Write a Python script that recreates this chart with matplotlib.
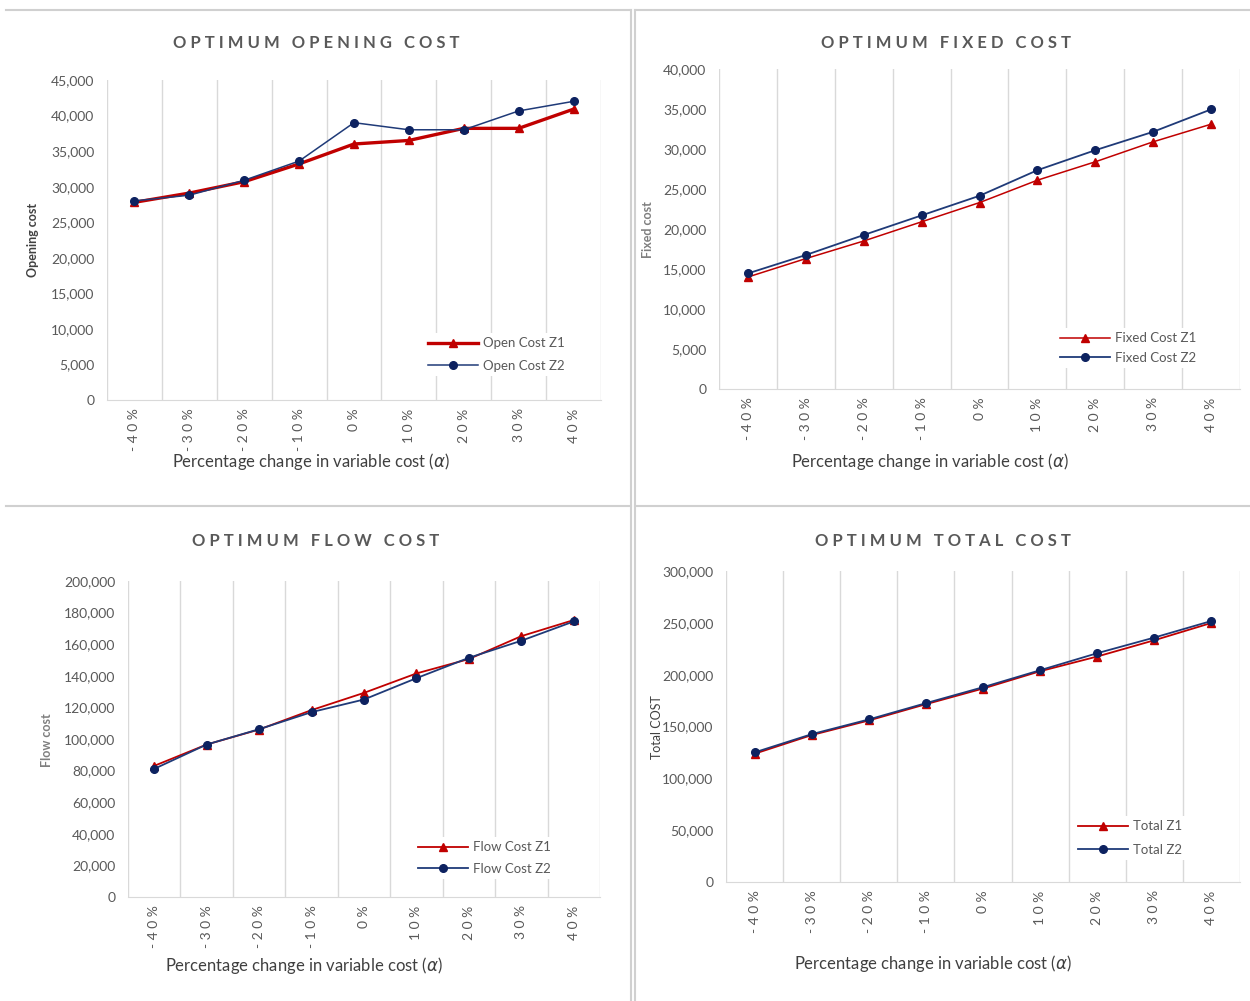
import numpy as np
import matplotlib.pyplot as plt
from matplotlib.lines import Line2D
from matplotlib.ticker import FuncFormatter

plt.rcParams["font.family"] = ["Lato", "DejaVu Sans"]

W, H = 1250, 1001

categories = ["-40%", "-30%", "-20%", "-10%", "0%", "10%", "20%", "30%", "40%"]

open_z1 = [27800, 29100, 30700, 33200, 36000, 36500, 38200, 38200, 40900]
open_z2 = [28000, 28800, 30900, 33600, 39000, 38000, 38000, 40650, 42000]

fixed_z1 = [14000, 16300, 18500, 20900, 23300, 26100, 28400, 30900, 33100]
fixed_z2 = [14450, 16750, 19250, 21700, 24150, 27350, 29850, 32150, 34950]

flow_z1 = [83000, 96500, 106000, 118300, 129200, 141500, 150600, 165100, 175300]
flow_z2 = [81100, 96500, 106200, 117000, 125000, 138500, 151400, 162200, 174400]

total_z1 = [123700, 141700, 155800, 171500, 186600, 203300, 217500, 233200, 249900]
total_z2 = [125000, 142600, 156800, 172500, 187900, 204300, 220700, 235800, 251800]

RED = "#C00000"
NAVY = "#1F3A78"
NAVY_MK = "#0D2260"
GRID = "#D9D9D9"
TICK = "#595959"


def px_rect(x0, y0, x1, y1):
    return [x0 / W, 1 - y1 / H, (x1 - x0) / W, (y1 - y0) / H]


def spaced(s, gap=" "):
    return gap.join(s)


def panel(fig, rect, z1, z2, labels, ymax, ystep, lw1, lw2,
          title, title_xy, ylab, ylab_xy, ylab_style, xlab_xy,
          leg_xy, leg_spacing):
    ax = fig.add_axes(px_rect(*rect))
    x = np.arange(len(categories))
    ax.plot(x, z1, color=RED, lw=lw1, marker="^", ms=5.5,
            mfc=RED, mec=RED, label=labels[0], zorder=3)
    ax.plot(x, z2, color=NAVY, lw=lw2, marker="o", ms=5.5,
            mfc=NAVY_MK, mec=NAVY_MK, label=labels[1], zorder=4)

    ax.set_xlim(-0.5, len(categories) - 0.5)
    ax.set_ylim(0, ymax)
    ax.set_yticks(np.arange(0, ymax + 1, ystep))
    ax.yaxis.set_major_formatter(FuncFormatter(lambda v, p: f"{int(v):,}"))
    ax.set_xticks(x)
    ax.set_xticklabels([spaced(c) for c in categories], rotation=90,
                       va="top", ha="center")
    ax.set_xticks(np.arange(-0.5, len(categories), 1.0), minor=True)
    ax.grid(which="minor", axis="x", color=GRID, lw=1.0)
    ax.tick_params(which="both", length=0)
    ax.tick_params(axis="y", pad=9, labelsize=10, labelcolor=TICK)
    ax.tick_params(axis="x", pad=6, labelsize=10, labelcolor=TICK)
    for s in ["top", "left", "right"]:
        ax.spines[s].set_visible(False)
    ax.spines["bottom"].set_color(GRID)

    fig.text(title_xy[0] / W, 1 - title_xy[1] / H, title, ha="center",
             va="center", fontsize=12, fontweight="bold", color="#595959")
    fig.text(ylab_xy[0] / W, 1 - ylab_xy[1] / H, ylab, rotation=90,
             ha="center", va="center", fontsize=9, **ylab_style)
    fig.text(xlab_xy[0] / W, 1 - xlab_xy[1] / H,
             r"Percentage change in variable cost ($\alpha$)",
             ha="center", va="center", fontsize=12, color="#404040")

    leg = ax.legend(loc="center left",
                    bbox_to_anchor=(leg_xy[0] / W, 1 - leg_xy[1] / H),
                    bbox_transform=fig.transFigure, fontsize=9.5,
                    frameon=True, facecolor="white", edgecolor="none",
                    framealpha=1.0, fancybox=False, borderpad=0.3,
                    borderaxespad=0, handlelength=3.8, handletextpad=0.4,
                    labelspacing=leg_spacing)
    for t in leg.get_texts():
        t.set_color(TICK)
    return ax


def title_text(words):
    return "   ".join(spaced(w) for w in words.split())


fig = plt.figure(figsize=(W / 100, H / 100), dpi=100)

panel(fig, (107, 80, 601, 400), open_z1, open_z2,
      ["Open Cost Z1", "Open Cost Z2"], 45000, 5000, 2.4, 1.1,
      title_text("OPTIMUM OPENING COST"), (316, 43),
      "Opening cost", (33, 240), dict(color="#404040", fontweight="bold"),
      (311, 461), (424, 354.5), 0.8)

panel(fig, (719, 69, 1240, 389), fixed_z1, fixed_z2,
      ["Fixed Cost Z1", "Fixed Cost Z2"], 40000, 5000, 1.1, 1.3,
      title_text("OPTIMUM FIXED COST"), (946, 43),
      "Fixed cost", (648, 230), dict(color="#7F7F7F", fontweight="bold"),
      (930, 461), (1056, 348), 0.55)

panel(fig, (128, 581, 600, 897), flow_z1, flow_z2,
      ["Flow Cost Z1", "Flow Cost Z2"], 200000, 20000, 1.3, 1.3,
      title_text("OPTIMUM FLOW COST"), (316, 541),
      "Flow cost", (47, 740), dict(color="#7F7F7F", fontweight="bold"),
      (304, 965), (414, 858), 0.7)

panel(fig, (726, 571, 1240, 882), total_z1, total_z2,
      ["Total Z1", "Total Z2"], 300000, 50000, 1.3, 1.3,
      title_text("OPTIMUM TOTAL COST"), (943, 541),
      "Total COST", (657, 727), dict(color="#404040"),
      (933, 963), (1074, 838), 0.85)

# light frames around the four chart panels
frame = dict(color="#D0D0D0", lw=1.5, transform=fig.transFigure)
for xs, ys in [
    ((6, 631), (10, 10)), ((631, 631), (10, 1001)),
    ((6, 631), (506, 506)),
    ((635, 1250), (10, 10)), ((635, 635), (10, 1001)),
    ((635, 1250), (506, 506)),
]:
    fig.add_artist(Line2D([x / W for x in xs], [1 - y / H for y in ys],
                          **frame))

fig.savefig("out.png", dpi=100)
